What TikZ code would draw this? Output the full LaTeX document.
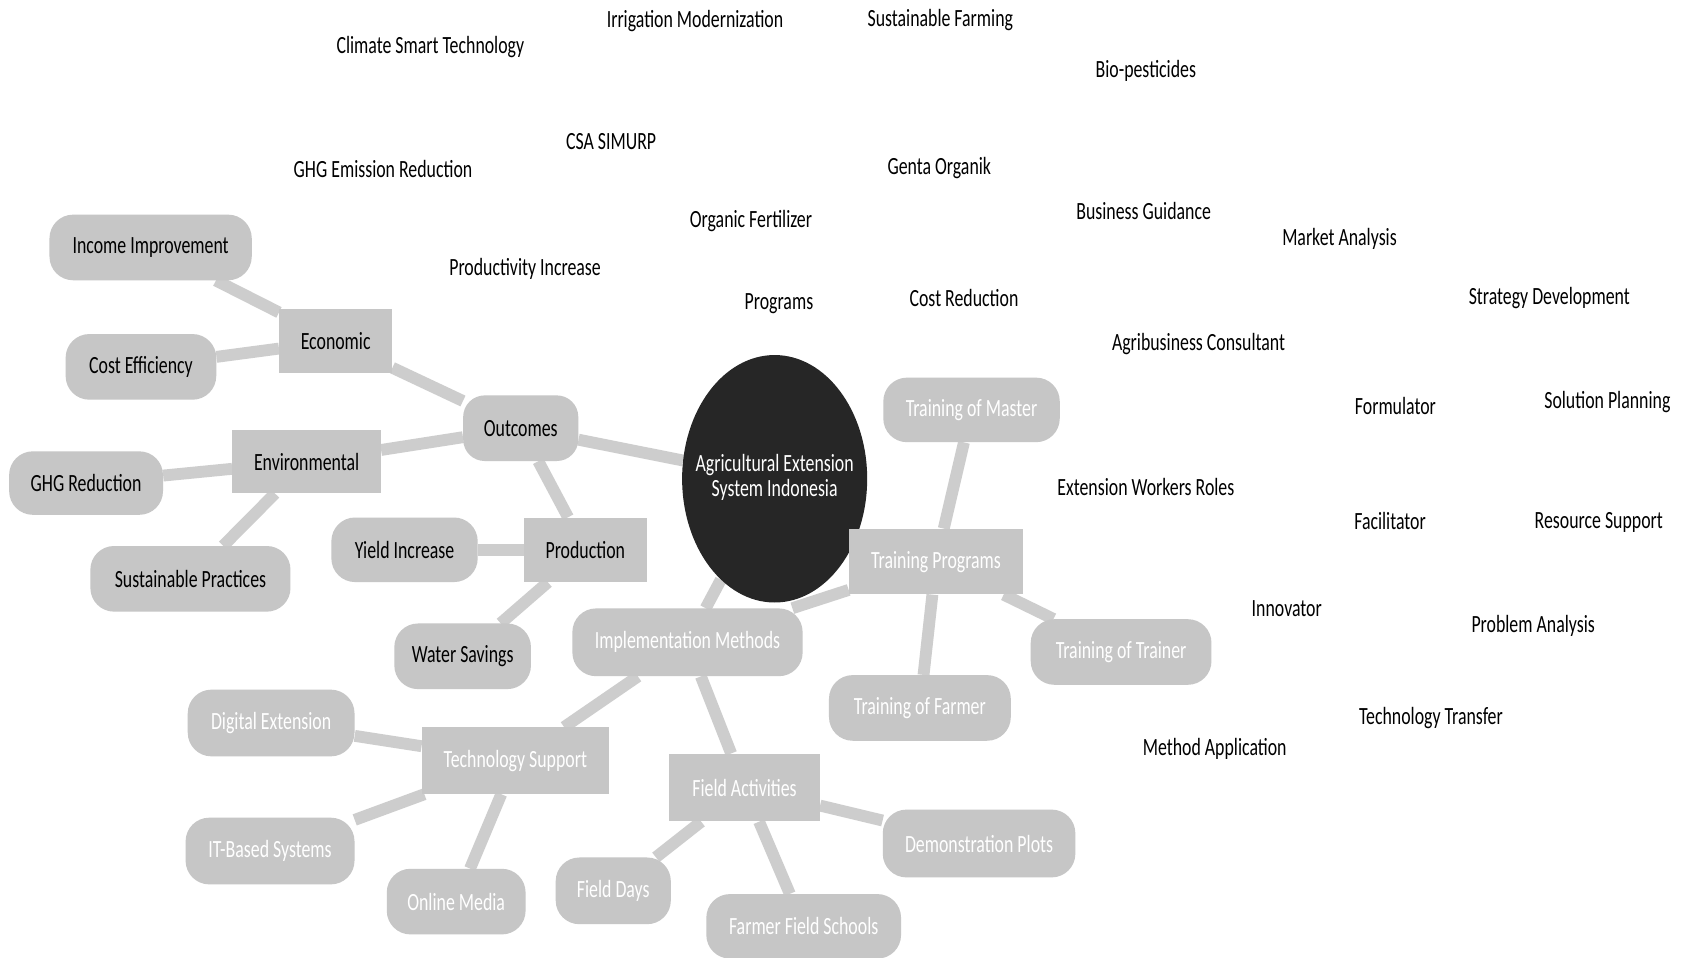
\documentclass[tikz,border=0pt]{standalone}
\usepackage{fontspec}
\setmainfont{Carlito}[FakeStretch=0.72]
\usetikzlibrary{backgrounds,shapes.geometric}
\definecolor{boxgray}{HTML}{C6C6C6}
\definecolor{linegray}{HTML}{CDCDCD}
\definecolor{hubdark}{HTML}{262626}
\tikzset{
  txt/.style={font=\fontsize{23}{24}\selectfont},
  lbl/.style={txt, text=black, inner sep=0pt},
  pill/.style={txt, fill=boxgray, rounded corners=22pt, minimum height=61pt, inner sep=0pt, text=black},
  sq/.style={txt, fill=boxgray, minimum height=61pt, inner sep=0pt, text=black},
  wt/.style={text=white},
  conn/.style={draw=linegray, line width=11pt},
}
\begin{document}
\begin{tikzpicture}[x=1pt,y=-1pt]
\useasboundingbox (0,0) rectangle (1568,890);

% hub
\node[ellipse, fill=hubdark, minimum width=172pt, minimum height=230pt, inner sep=0pt, text=white, txt] (hub) at (720,445) {\makebox[0pt]{\begin{tabular}{@{}c@{}}Agricultural Extension\\System Indonesia\end{tabular}}};

% outcomes cluster
\node[pill, minimum width=188pt] (inc) at (140,230) {Income Improvement};
\node[sq, minimum width=105pt, minimum height=60pt] (eco) at (312,317) {Economic};
\node[pill, minimum width=140pt] (cost) at (131,341) {Cost Efficiency};
\node[pill, minimum width=107pt, rounded corners=20pt] (out) at (484,398) {Outcomes};
\node[sq, minimum width=138pt, minimum height=59pt] (env) at (285,429) {Environmental};
\node[pill, minimum width=143pt, minimum height=59pt] (ghg) at (80,449) {GHG Reduction};
\node[pill, minimum width=186pt] (sus) at (177,538) {Sustainable Practices};
\node[pill, minimum width=136pt, minimum height=60pt] (yld) at (376,511) {Yield Increase};
\node[sq, minimum width=114pt, minimum height=60pt] (prod) at (544,511) {Production};
\node[pill, minimum width=127pt] (wat) at (430,610) {Water Savings};

% training cluster
\node[pill, wt, minimum width=164pt, minimum height=60pt] (tom) at (903,381) {Training of Master};
\node[sq, wt, minimum width=162pt] (tp) at (870,522) {Training Programs};
\node[pill, wt, minimum width=168pt] (tot) at (1042,606) {Training of Trainer};
\node[pill, wt, minimum width=169pt] (tof) at (855,658) {Training of Farmer};

% implementation cluster
\node[pill, wt, minimum width=214pt, minimum height=63pt] (impl) at (639,597) {Implementation Methods};
\node[sq, wt, minimum width=174pt, minimum height=62pt] (tech) at (479,707) {Technology Support};
\node[pill, wt, minimum width=155pt, minimum height=62pt] (dig) at (252,672) {Digital Extension};
\node[pill, wt, minimum width=157pt, minimum height=62pt] (itb) at (251,791) {IT-Based Systems};
\node[pill, wt, minimum width=129pt] (onl) at (424,838) {Online Media};
\node[sq, wt, minimum width=140pt, minimum height=63pt] (fld) at (692,732) {Field Activities};
\node[pill, wt, minimum width=107pt, minimum height=62pt] (fdays) at (570,828) {Field Days};
\node[pill, wt, minimum width=181pt, minimum height=60pt] (ffs) at (747,861) {Farmer Field Schools};
\node[pill, wt, minimum width=179pt, minimum height=63pt] (demo) at (910,784) {Demonstration Plots};

% connectors
\begin{scope}[on background layer]
\fill[white] (0,0) rectangle (1568,890);
\draw[conn] (hub) -- (out);
\draw[conn] (out) -- (eco);
\draw[conn] (eco) -- (inc);
\draw[conn] (eco) -- (cost);
\draw[conn] (out) -- (env);
\draw[conn] (env) -- (ghg);
\draw[conn] (env) -- (sus);
\draw[conn] (out) -- (prod);
\draw[conn] (prod) -- (yld);
\draw[conn] (prod) -- (wat);
\draw[conn] (hub) -- (impl);
\draw[conn] (impl) -- (tp);
\draw[conn] (tp) -- (tom);
\draw[conn] (tp) -- (tot);
\draw[conn] (tp) -- (tof);
\draw[conn] (impl) -- (tech);
\draw[conn] (impl) -- (fld);
\draw[conn] (tech) -- (dig);
\draw[conn] (tech) -- (itb);
\draw[conn] (tech) -- (onl);
\draw[conn] (fld) -- (fdays);
\draw[conn] (fld) -- (ffs);
\draw[conn] (fld) -- (demo);
\end{scope}

% free labels
\node[lbl] (l1) at (400,44) {Climate Smart Technology};
\node[lbl] (l2) at (646,20) {Irrigation Modernization};
\node[lbl] (l3) at (874,19) {Sustainable Farming};
\node[lbl] (l4) at (1065,66) {Bio-pesticides};
\node[lbl] (l5) at (568,132) {CSA SIMURP};
\node[lbl] (l6) at (356,157) {GHG Emission Reduction};
\node[lbl] (l7) at (873,156) {Genta Organik};
\node[lbl] (l8) at (698,205) {Organic Fertilizer};
\node[lbl] (l9) at (1063,196) {Business Guidance};
\node[lbl] (l10) at (1245,222) {Market Analysis};
\node[lbl] (l11) at (488,250) {Productivity Increase};
\node[lbl] (l12) at (724,282) {Programs};
\node[lbl] (l13) at (896,277) {Cost Reduction};
\node[lbl] (l14) at (1440,277) {Strategy Development};
\node[lbl] (l15) at (1114,320) {Agribusiness Consultant};
\node[lbl] (l16) at (1297,377) {Formulator};
\node[lbl] (l17) at (1494,374) {Solution Planning};
\node[lbl] (l18) at (1065,453) {Extension Workers Roles};
\node[lbl] (l19) at (1292,484) {Facilitator};
\node[lbl] (l20) at (1486,486) {Resource Support};
\node[lbl] (l21) at (1196,566) {Innovator};
\node[lbl] (l22) at (1425,582) {Problem Analysis};
\node[lbl] (l23) at (1330,667) {Technology Transfer};
\node[lbl] (l24) at (1129,696) {Method Application};
\end{tikzpicture}
\end{document}
